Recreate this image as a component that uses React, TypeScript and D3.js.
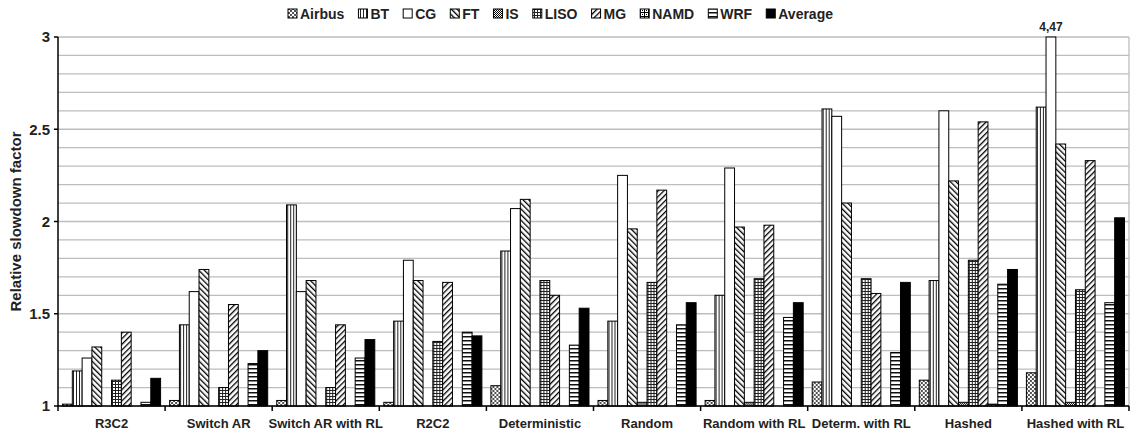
import React from "react";
import * as d3 from "d3";

const categories = [
  "R3C2",
  "Switch AR",
  "Switch AR with RL",
  "R2C2",
  "Deterministic",
  "Random",
  "Random with RL",
  "Determ. with RL",
  "Hashed",
  "Hashed with RL",
];

const seriesNames = ["Airbus", "BT", "CG", "FT", "IS", "LISO", "MG", "NAMD", "WRF", "Average"];

const airbus = [1.01, 1.03, 1.03, 1.02, 1.11, 1.03, 1.03, 1.13, 1.14, 1.18];
const bt = [1.19, 1.44, 2.09, 1.46, 1.84, 1.46, 1.6, 2.61, 1.68, 2.62];
const cg = [1.26, 1.62, 1.62, 1.79, 2.07, 2.25, 2.29, 2.57, 2.6, 4.47];
const ft = [1.32, 1.74, 1.68, 1.68, 2.12, 1.96, 1.97, 2.1, 2.22, 2.42];
const is = [1.0, 1.0, 1.0, 1.0, 1.0, 1.02, 1.02, 1.0, 1.02, 1.02];
const liso = [1.14, 1.1, 1.1, 1.35, 1.68, 1.67, 1.69, 1.69, 1.79, 1.63];
const mg = [1.4, 1.55, 1.44, 1.67, 1.6, 2.17, 1.98, 1.61, 2.54, 2.33];
const namd = [1.0, 1.0, 1.0, 1.0, 1.0, 1.0, 1.0, 1.0, 1.01, 1.0];
const wrf = [1.02, 1.23, 1.26, 1.4, 1.33, 1.44, 1.48, 1.29, 1.66, 1.56];
const average = [1.15, 1.3, 1.36, 1.38, 1.53, 1.56, 1.56, 1.67, 1.74, 2.02];

const seriesValues = [airbus, bt, cg, ft, is, liso, mg, namd, wrf, average];

const yTicks = [1, 1.5, 2, 2.5, 3];
const yDomain: [number, number] = [1, 3];

const FONT = "'Liberation Sans', Arial, sans-serif";

const fills: Record<string, string> = {
  Airbus: "url(#p-airbus)",
  BT: "url(#p-bt)",
  CG: "#ffffff",
  FT: "url(#p-ft)",
  IS: "url(#p-is)",
  LISO: "url(#p-liso)",
  MG: "url(#p-mg)",
  NAMD: "url(#p-namd)",
  WRF: "url(#p-wrf)",
  Average: "#000000",
};

function measure(text: string, font: string): number {
  if (typeof document === "undefined") return text.length * 8;
  const c = document.createElement("canvas");
  const ctx = c.getContext("2d");
  if (!ctx) return text.length * 8;
  ctx.font = font;
  return ctx.measureText(text).width;
}

export default function App() {
  const W = 1132;
  const H = 434;
  const left = 58;
  const right = 1129;
  const top = 37;
  const bottom = 406;

  const x0 = d3.scaleBand<string>().domain(categories).range([left, right]).paddingInner(0).paddingOuter(0);
  const x1 = d3
    .scaleBand<string>()
    .domain(seriesNames)
    .range([0, x0.bandwidth()])
    .paddingInner(0)
    .paddingOuter(0.46);
  const y = d3.scaleLinear().domain(yDomain).range([bottom, top]);

  const minorTicks = d3.range(10, 31).map((v) => v / 10);

  // legend layout: spread items between legendStart and legendEnd
  const legendFontSize = 14;
  const legendFont = `bold ${legendFontSize}px ${FONT}`;
  const sq = 9;
  const sqGap = 3;
  const legendStart = 288;
  const legendEnd = 833;
  const widths = seriesNames.map((n) => measure(n, legendFont));
  const content = widths.reduce((a, b) => a + b, 0) + seriesNames.length * (sq + sqGap);
  const itemGap = (legendEnd - legendStart - content) / (seriesNames.length - 1);
  const legendX: number[] = [];
  let cx = legendStart;
  widths.forEach((w) => {
    legendX.push(cx);
    cx += sq + sqGap + w + itemGap;
  });

  const boundaries = categories.map((c) => x0(c) as number).concat([right]);

  return (
    <svg
      width={W}
      height={H}
      style={{ position: "absolute", left: 0, top: 0, background: "#fff" }}
      fontFamily={FONT}
    >
      <defs>
        <pattern id="p-airbus" patternUnits="userSpaceOnUse" width={4} height={4}>
          <rect width={4} height={4} fill="#fff" />
          <rect x={0} y={0} width={2} height={2} fill="#333" />
          <rect x={2} y={2} width={2} height={2} fill="#333" />
          <rect x={0.5} y={0.5} width={1} height={1} fill="#aaa" />
          <rect x={2.5} y={2.5} width={1} height={1} fill="#aaa" />
        </pattern>
        <pattern id="p-bt" patternUnits="userSpaceOnUse" width={3} height={3}>
          <rect width={3} height={3} fill="#fff" />
          <rect x={0} y={0} width={1} height={3} fill="#222" />
        </pattern>
        <pattern id="p-ft" patternUnits="userSpaceOnUse" width={4} height={4} patternTransform="rotate(-45)">
          <rect width={4} height={4} fill="#fff" />
          <rect x={0} y={0} width={1.3} height={4} fill="#000" />
        </pattern>
        <pattern id="p-mg" patternUnits="userSpaceOnUse" width={4} height={4} patternTransform="rotate(45)">
          <rect width={4} height={4} fill="#fff" />
          <rect x={0} y={0} width={1.3} height={4} fill="#000" />
        </pattern>
        <pattern id="p-is" patternUnits="userSpaceOnUse" width={2} height={2}>
          <rect width={2} height={2} fill="#fff" />
          <rect x={0} y={0} width={1} height={1} fill="#000" />
          <rect x={1} y={1} width={1} height={1} fill="#000" />
        </pattern>
        <pattern id="p-liso" patternUnits="userSpaceOnUse" width={3} height={3}>
          <rect width={3} height={3} fill="#fff" />
          <rect x={0} y={0} width={1} height={3} fill="#222" />
          <rect x={0} y={0} width={3} height={1} fill="#222" />
        </pattern>
        <pattern id="p-namd" patternUnits="userSpaceOnUse" width={4} height={4}>
          <rect width={4} height={4} fill="#fff" />
          <rect x={0} y={0} width={4} height={1} fill="#000" />
          <rect x={0} y={0} width={1} height={4} fill="#000" />
          <rect x={2} y={2} width={1} height={1} fill="#000" />
        </pattern>
        <pattern id="p-wrf" patternUnits="userSpaceOnUse" width={4} height={4}>
          <rect width={4} height={4} fill="#fff" />
          <rect x={0} y={0} width={4} height={1.5} fill="#111" />
        </pattern>
      </defs>

      {/* grid lines */}
      {minorTicks.map((t) => (
        <line
          key={`g${t}`}
          x1={left}
          x2={right}
          y1={y(t)}
          y2={y(t)}
          stroke="#bdbdbd"
          strokeWidth={1.3}
        />
      ))}
      <line x1={right} x2={right} y1={top} y2={bottom} stroke="#bdbdbd" strokeWidth={1.3} />

      {/* bars */}
      {categories.map((cat, ci) => (
        <g key={cat} transform={`translate(${x0(cat)},0)`}>
          {seriesNames.map((s, si) => {
            const v = seriesValues[si][ci];
            const vc = Math.min(v, yDomain[1]);
            const yy = y(vc);
            return (
              <rect
                key={s}
                x={x1(s)}
                y={yy}
                width={x1.bandwidth()}
                height={Math.max(0, bottom - yy)}
                fill={fills[s]}
                stroke="#000"
                strokeWidth={1}
              />
            );
          })}
        </g>
      ))}

      {/* clipped value label */}
      {categories.map((cat, ci) =>
        seriesNames.map((s, si) => {
          const v = seriesValues[si][ci];
          if (v <= yDomain[1]) return null;
          const cxp = (x0(cat) as number) + (x1(s) as number) + x1.bandwidth() / 2;
          return (
            <text
              key={`l${cat}${s}`}
              x={cxp}
              y={top - 6}
              textAnchor="middle"
              fontSize={12}
              fontWeight="bold"
              fill="#222"
            >
              {v.toFixed(2).replace(".", ",")}
            </text>
          );
        })
      )}

      {/* axes */}
      <line x1={left} x2={left} y1={top} y2={bottom} stroke="#000" strokeWidth={1.5} />
      <line x1={left} x2={right} y1={bottom} y2={bottom} stroke="#000" strokeWidth={1.5} />
      {yTicks.map((t) => (
        <g key={`yt${t}`}>
          <line x1={left - 4} x2={left} y1={y(t)} y2={y(t)} stroke="#000" strokeWidth={1.5} />
          <text
            x={left - 8}
            y={y(t)}
            dy="0.35em"
            textAnchor="end"
            fontSize={15}
            fontWeight="bold"
            fill="#222"
          >
            {String(t)}
          </text>
        </g>
      ))}
      {boundaries.map((b, i) => (
        <line key={`xt${i}`} x1={b} x2={b} y1={bottom} y2={bottom + 5} stroke="#000" strokeWidth={1.5} />
      ))}
      {categories.map((cat) => (
        <text
          key={`xl${cat}`}
          x={(x0(cat) as number) + x0.bandwidth() / 2}
          y={428}
          textAnchor="middle"
          fontSize={13}
          fontWeight="bold"
          fill="#222"
        >
          {cat}
        </text>
      ))}
      <text
        transform={`translate(21,${(top + bottom) / 2}) rotate(-90)`}
        textAnchor="middle"
        fontSize={15}
        fontWeight="bold"
        fill="#222"
      >
        Relative slowdown factor
      </text>

      {/* legend */}
      {seriesNames.map((s, i) => (
        <g key={`lg${s}`}>
          <rect
            x={legendX[i]}
            y={9}
            width={sq}
            height={sq}
            fill={fills[s]}
            stroke="#000"
            strokeWidth={1}
          />
          <text x={legendX[i] + sq + sqGap} y={19} fontSize={legendFontSize} fontWeight="bold" fill="#222">
            {s}
          </text>
        </g>
      ))}
    </svg>
  );
}
